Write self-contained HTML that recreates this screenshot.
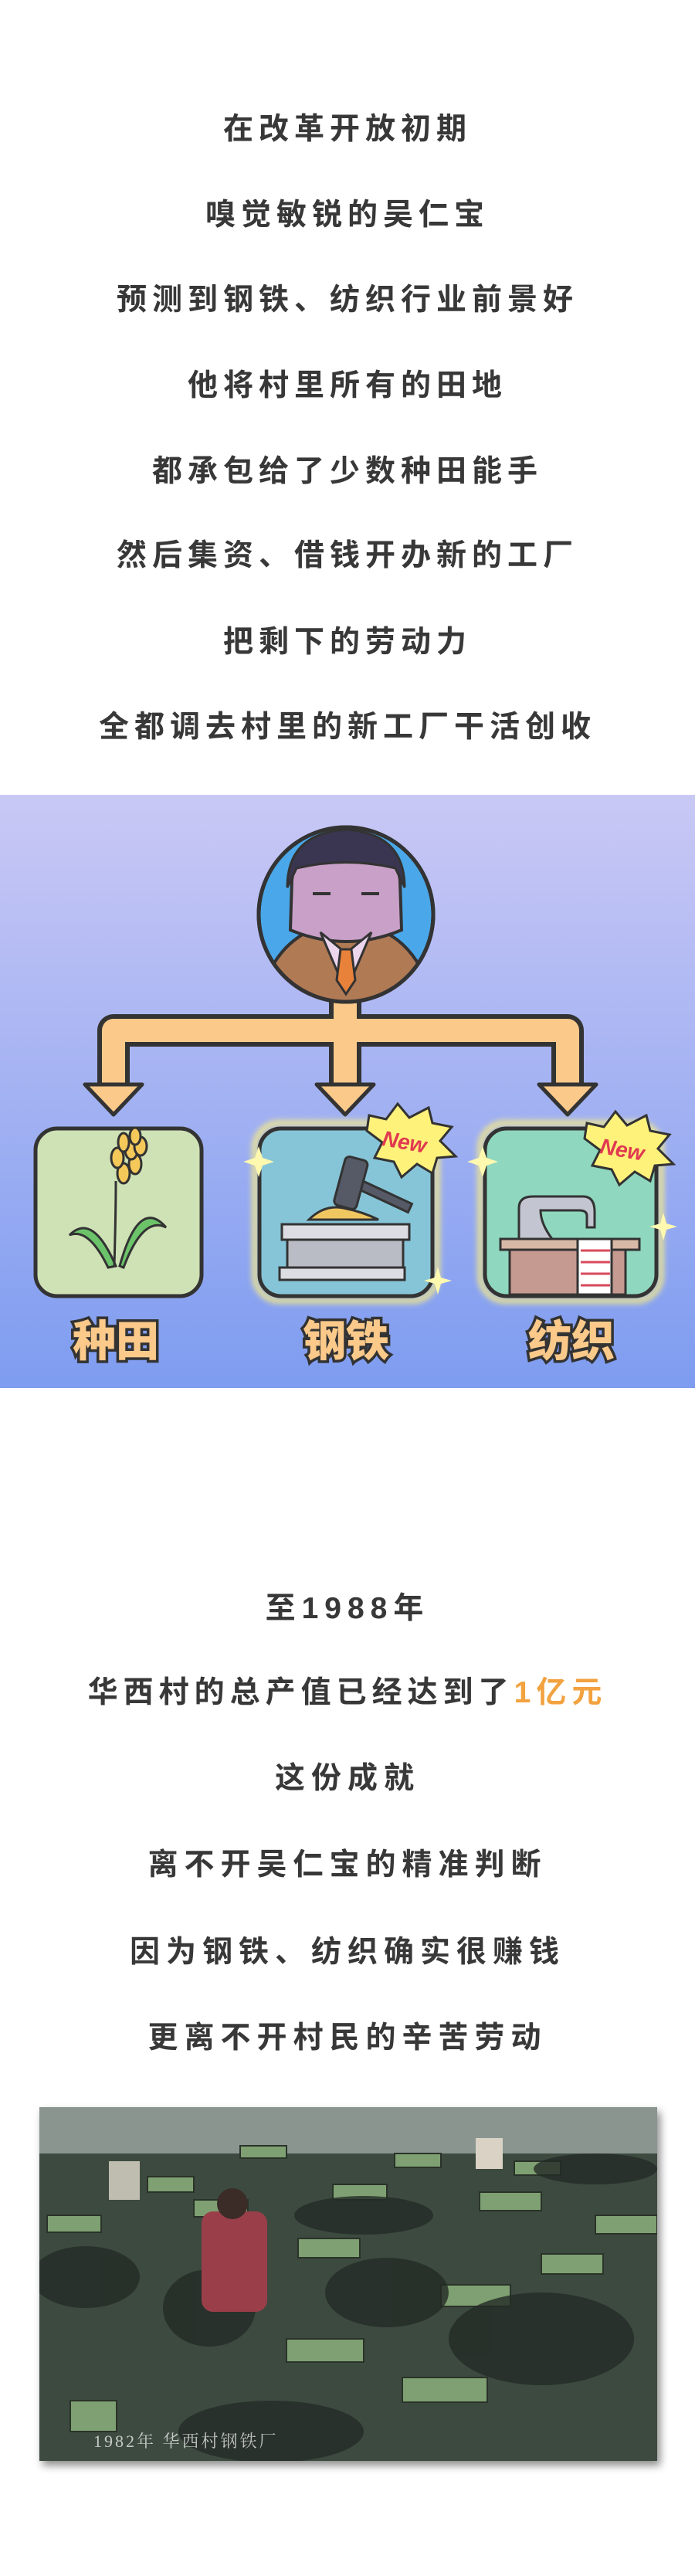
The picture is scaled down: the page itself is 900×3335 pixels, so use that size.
<!DOCTYPE html>
<html><head><meta charset="utf-8"><style>
html,body{margin:0;padding:0;background:#fff}
body{width:900px;height:3335px;position:relative;overflow:hidden;font-family:"Liberation Sans","Noto Sans CJK SC",sans-serif}
.t{position:absolute;left:0;width:900px;text-align:center;font-size:39px;color:#383838;letter-spacing:7px;line-height:50px;font-weight:700}
.o{color:#f2a23f}
#panel{position:absolute;left:0;top:1029px;width:900px;height:768px;background:linear-gradient(#c9c8f5,#7e9cf0)}
#photo{position:absolute;left:51px;top:2728px;width:800px;height:458px;box-shadow:4px 6px 10px rgba(0,0,0,.45);overflow:hidden;background:linear-gradient(#5d6a60,#39463e)}
</style></head><body>
<div class="t" style="top:143px">在改革开放初期</div>
<div class="t" style="top:254px">嗅觉敏锐的吴仁宝</div>
<div class="t" style="top:364px">预测到钢铁、纺织行业前景好</div>
<div class="t" style="top:475px">他将村里所有的田地</div>
<div class="t" style="top:586px">都承包给了少数种田能手</div>
<div class="t" style="top:695px">然后集资、借钱开办新的工厂</div>
<div class="t" style="top:807px">把剩下的劳动力</div>
<div class="t" style="top:917px">全都调去村里的新工厂干活创收</div>

<div id="panel">
<svg width="900" height="768" viewBox="0 0 900 768" xmlns="http://www.w3.org/2000/svg">
<defs><clipPath id="cc"><circle cx="448" cy="155" r="111"/></clipPath>
<filter id="gl"><feGaussianBlur stdDeviation="4"/></filter></defs>
<g fill="none" stroke-linejoin="round" stroke-linecap="butt">
<path d="M147 385 V305 H735 V385 M447 265 V385" stroke="#333" stroke-width="42"/>
<path d="M147 387 V305 H735 V387 M447 262 V387" stroke="#fbc98a" stroke-width="30"/>
</g>
<g fill="#fbc98a" stroke="#333" stroke-width="5" stroke-linejoin="round">
<polygon points="110,375 184,375 147,414"/>
<polygon points="410,375 484,375 447,414"/>
<polygon points="698,375 772,375 735,414"/>
</g>
<circle cx="448" cy="155" r="113" fill="#4aa8ea" stroke="#333" stroke-width="5"/>
<g clip-path="url(#cc)">
<path d="M330 290 Q350 170 448 165 Q546 170 566 290 Z" fill="#b07a55" stroke="#333" stroke-width="4"/>
<path d="M378 110 Q385 60 448 58 Q511 60 518 110 L520 175 Q448 205 376 175 Z" fill="#c9a0c8" stroke="#333" stroke-width="4"/>
<path d="M372 120 Q372 50 448 45 Q524 50 524 120 L512 95 Q448 80 384 95 Z" fill="#3a3550" stroke="#333" stroke-width="3"/>
<path d="M415 178 L448 205 L481 178 L448 255 Z" fill="#ecd6ee" stroke="#333" stroke-width="3"/>
<path d="M441 200 L455 200 L460 240 L448 258 L436 240 Z" fill="#e8823a" stroke="#333" stroke-width="3"/>
<path d="M405 128 H428 M468 128 H491" stroke="#333" stroke-width="4"/>
</g>
<circle cx="448" cy="155" r="113" fill="none" stroke="#333" stroke-width="5"/>
<rect x="330" y="425" width="236" height="230" rx="32" fill="none" stroke="#fff27a" stroke-width="6" filter="url(#gl)"/>
<rect x="622" y="425" width="234" height="230" rx="32" fill="none" stroke="#fff27a" stroke-width="6" filter="url(#gl)"/>
<rect x="46" y="432" width="215" height="217" rx="28" fill="#cfe2b5" stroke="#333" stroke-width="5"/>
<rect x="336" y="432" width="224" height="217" rx="28" fill="#86c5d8" stroke="#333" stroke-width="5"/>
<rect x="628" y="432" width="222" height="217" rx="28" fill="#8fd7bf" stroke="#333" stroke-width="5"/>
<g stroke="#333" stroke-width="3">
<path d="M150 610 Q120 540 90 570 Q115 560 140 612 Z" fill="#6cc46a"/>
<path d="M155 610 Q180 520 215 560 Q185 545 160 612 Z" fill="#6cc46a"/>
<path d="M148 610 Q150 540 150 500" fill="none"/>
<g fill="#f5c85a"><ellipse cx="160" cy="490" rx="8" ry="13"/><ellipse cx="175" cy="478" rx="8" ry="13"/><ellipse cx="152" cy="470" rx="8" ry="13"/><ellipse cx="170" cy="460" rx="8" ry="12"/><ellipse cx="182" cy="455" rx="8" ry="12"/><ellipse cx="160" cy="450" rx="7" ry="12"/><ellipse cx="175" cy="442" rx="7" ry="11"/></g>
</g>
<g stroke="#333" stroke-width="3">
<path d="M400 550 Q420 530 445 535 Q470 540 490 550 Z" fill="#f0c660"/>
<rect x="365" y="556" width="165" height="20" fill="#dcdde2"/>
<rect x="372" y="576" width="150" height="36" fill="#b9bcc4"/>
<rect x="362" y="612" width="162" height="16" fill="#dcdde2"/>
<rect x="470" y="500" width="70" height="12" transform="rotate(25 470 500)" fill="#555a66"/>
<rect x="440" y="470" width="30" height="65" rx="6" transform="rotate(15 455 500)" fill="#555a66"/>
</g>
<g stroke="#333" stroke-width="3">
<path d="M672 575 V535 Q672 520 690 520 H755 Q770 520 770 540 V560 H760 V545 Q760 538 750 538 H700 Q700 555 715 575 Z" fill="#c3c5d0"/>
<rect x="648" y="575" width="180" height="14" fill="#d8b8a6"/>
<rect x="660" y="589" width="150" height="58" fill="#c59a90"/>
<rect x="748" y="575" width="44" height="72" fill="#fff"/>
<path d="M752 590 H790 M752 605 H790 M752 620 H790 M752 635 H790" stroke="#d84a5a" stroke-width="3"/>
</g>
<g fill="#fff9b0"><path d="M330 470 l5 -15 l5 15 l15 5 l-15 5 l-5 15 l-5 -15 l-15 -5z"/><path d="M563 625 l4 -14 l4 14 l14 4 l-14 4 l-4 14 l-4 -14 l-14 -4z"/><path d="M620 470 l5 -15 l5 15 l15 5 l-15 5 l-5 15 l-5 -15 l-15 -5z"/><path d="M855 555 l4 -14 l4 14 l14 4 l-14 4 l-4 14 l-4 -14 l-14 -4z"/></g>
<g stroke="#333" stroke-width="3" fill="#fff27a">
<polygon points="478,415 500,420 515,400 530,418 555,405 560,425 585,430 570,448 590,468 566,470 560,490 540,478 520,495 510,475 485,470 495,450 475,435"/>
<polygon points="760,425 782,430 797,410 812,428 837,415 842,435 867,440 852,458 872,478 848,480 842,500 822,488 802,505 792,485 767,480 777,460 757,445"/>
</g>
<g font-family="Liberation Sans,sans-serif" font-weight="bold" font-style="italic" font-size="28" fill="#e03a50">
<text x="495" y="460" transform="rotate(10 530 450)">New</text>
<text x="777" y="470" transform="rotate(10 812 460)">New</text>
</g>
<g font-family="Liberation Sans,Noto Sans CJK SC,sans-serif" font-weight="900" font-size="56" fill="#fbc98a" stroke="#333" stroke-width="7" paint-order="stroke" text-anchor="middle">
<text x="150" y="727">种田</text>
<text x="448" y="727">钢铁</text>
<text x="740" y="727">纺织</text>
</g>
</svg>
</div>

<div class="t" style="top:2058px;letter-spacing:8px">至1988年</div>
<div class="t" style="top:2167px;letter-spacing:7px">华西村的总产值已经达到了<span class="o">1亿元</span></div>
<div class="t" style="top:2278px;letter-spacing:8px">这份成就</div>
<div class="t" style="top:2390px;letter-spacing:8px">离不开吴仁宝的精准判断</div>
<div class="t" style="top:2503px;letter-spacing:8px">因为钢铁、纺织确实很赚钱</div>
<div class="t" style="top:2614px;letter-spacing:8px">更离不开村民的辛苦劳动</div>

<div id="photo">
<svg width="800" height="458" xmlns="http://www.w3.org/2000/svg">
<rect width="800" height="60" fill="#8a9590"/>
<rect x="0" y="60" width="800" height="398" fill="#3d4a40"/>
<g fill="#7fa072" stroke="#2a3329" stroke-width="2">
<rect x="140" y="90" width="60" height="20"/><rect x="200" y="120" width="70" height="22"/><rect x="260" y="50" width="60" height="16"/><rect x="10" y="140" width="70" height="22"/>
<rect x="335" y="170" width="80" height="25"/><rect x="380" y="100" width="70" height="20"/><rect x="460" y="60" width="60" height="18"/>
<rect x="570" y="110" width="80" height="24"/><rect x="615" y="70" width="60" height="18"/><rect x="720" y="140" width="80" height="24"/>
<rect x="650" y="190" width="80" height="26"/><rect x="520" y="230" width="90" height="28"/><rect x="320" y="300" width="100" height="30"/>
<rect x="470" y="350" width="110" height="32"/><rect x="40" y="380" width="60" height="40"/>
</g>
<g fill="#232a25" opacity=".8">
<ellipse cx="60" cy="220" rx="70" ry="40"/><ellipse cx="220" cy="260" rx="60" ry="50"/><ellipse cx="450" cy="240" rx="80" ry="45"/>
<ellipse cx="650" cy="300" rx="120" ry="60"/><ellipse cx="300" cy="420" rx="120" ry="40"/><ellipse cx="720" cy="80" rx="80" ry="20"/>
<ellipse cx="420" cy="140" rx="90" ry="25"/>
</g>
<rect x="210" y="135" width="85" height="130" rx="15" fill="#9a3f4a"/>
<circle cx="250" cy="125" r="20" fill="#3b2c28"/>
<rect x="90" y="70" width="40" height="50" fill="#bfbcb0"/>
<rect x="565" y="40" width="35" height="40" fill="#d9d2c5"/>
<text x="70" y="440" font-family="Liberation Serif,Noto Serif CJK SC,serif" font-size="22" fill="#fff" opacity=".7" letter-spacing="3">1982年 华西村钢铁厂</text>
</svg>
</div>
</body></html>
